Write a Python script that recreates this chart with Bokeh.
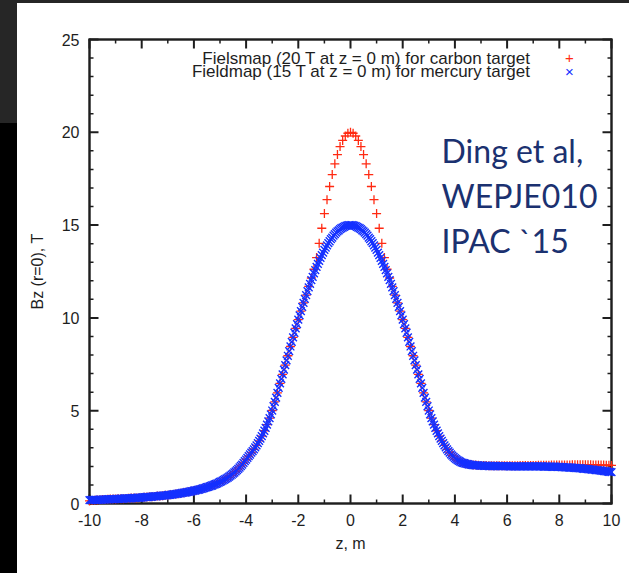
import numpy as np
from bokeh.plotting import figure
from bokeh.models import Range1d, FixedTicker, Label, Div, CustomJSTickFormatter
from bokeh.layouts import row, column
from bokeh.embed import file_html
from bokeh.resources import INLINE

# On-axis field Bz(r=0) of the target solenoid, sampled along z.
# Carbon-target field map (20 T at z = 0), 0.1 m step
z_carbon = np.round(np.linspace(-10.0, 10.0, 201), 2)
bz_carbon = [
    0.14, 0.16, 0.18, 0.19, 0.20, 0.21, 0.22, 0.23, 0.24, 0.24,   # -10 .. -9.1
    0.24, 0.25, 0.26, 0.26, 0.27, 0.28, 0.29, 0.30, 0.30, 0.31,   # -9
    0.32, 0.34, 0.35, 0.36, 0.37, 0.38, 0.40, 0.41, 0.42, 0.44,   # -8
    0.45, 0.47, 0.49, 0.51, 0.53, 0.55, 0.58, 0.60, 0.63, 0.66,   # -7
    0.69, 0.72, 0.75, 0.79, 0.83, 0.88, 0.92, 0.97, 1.03, 1.09,   # -6
    1.16, 1.23, 1.31, 1.40, 1.50, 1.61, 1.73, 1.87, 2.02, 2.19,   # -5
    2.37, 2.55, 2.74, 2.92, 3.13, 3.37, 3.63, 3.92, 4.25, 4.60,   # -4
    5.01, 5.48, 5.96, 6.47, 6.96, 7.46, 7.96, 8.46, 8.95, 9.44,   # -3
    9.91, 10.36, 10.81, 11.23, 11.70, 12.15, 12.62, 13.25, 14.02, 14.83,   # -2
    15.62, 16.37, 17.08, 17.72, 18.30, 18.80, 19.23, 19.56, 19.80, 19.95,  # -1
    20.00, 19.95, 19.80, 19.56, 19.23, 18.80, 18.30, 17.72, 17.08, 16.37,  # 0
    15.62, 14.83, 14.02, 13.25, 12.62, 12.15, 11.70, 11.23, 10.81, 10.36,  # 1
    9.91, 9.44, 8.95, 8.46, 7.96, 7.46, 6.96, 6.47, 5.96, 5.48,   # 2
    5.01, 4.60, 4.25, 3.92, 3.63, 3.37, 3.13, 2.92, 2.74, 2.58,   # 3
    2.45, 2.34, 2.26, 2.19, 2.15, 2.12, 2.10, 2.08, 2.07, 2.06,   # 4
    2.05, 2.05, 2.05, 2.04, 2.04, 2.04, 2.04, 2.04, 2.04, 2.04,   # 5
    2.04, 2.04, 2.04, 2.04, 2.04, 2.05, 2.05, 2.05, 2.05, 2.05,   # 6
    2.05, 2.05, 2.06, 2.06, 2.06, 2.06, 2.06, 2.07, 2.07, 2.07,   # 7
    2.07, 2.08, 2.08, 2.08, 2.08, 2.09, 2.09, 2.09, 2.09, 2.09,   # 8
    2.09, 2.09, 2.09, 2.08, 2.08, 2.08, 2.07, 2.07, 2.06, 2.06,   # 9
    2.05,                                                          # 10
]

# Mercury-target field map (15 T at z = 0), 0.05 m step
z_mercury = np.round(np.linspace(-10.0, 10.0, 401), 2)
bz_mercury = [
    0.18, 0.18, 0.19, 0.19, 0.19, 0.20, 0.20, 0.20, 0.21, 0.21,
    0.21, 0.21, 0.22, 0.22, 0.22, 0.23, 0.23, 0.23, 0.24, 0.24,   # -10
    0.24, 0.25, 0.25, 0.25, 0.26, 0.26, 0.26, 0.27, 0.27, 0.28,
    0.28, 0.28, 0.29, 0.29, 0.30, 0.30, 0.30, 0.31, 0.31, 0.32,   # -9
    0.32, 0.33, 0.34, 0.34, 0.35, 0.35, 0.36, 0.36, 0.37, 0.38,
    0.38, 0.39, 0.40, 0.40, 0.41, 0.42, 0.42, 0.43, 0.44, 0.44,   # -8
    0.45, 0.46, 0.47, 0.48, 0.49, 0.50, 0.51, 0.52, 0.53, 0.54,
    0.55, 0.57, 0.58, 0.59, 0.60, 0.62, 0.63, 0.64, 0.66, 0.67,   # -7
    0.69, 0.70, 0.72, 0.74, 0.75, 0.77, 0.79, 0.81, 0.83, 0.85,
    0.88, 0.90, 0.92, 0.95, 0.97, 1.00, 1.03, 1.06, 1.09, 1.12,   # -6
    1.16, 1.19, 1.23, 1.27, 1.31, 1.35, 1.40, 1.45, 1.50, 1.55,
    1.61, 1.67, 1.73, 1.80, 1.87, 1.94, 2.02, 2.10, 2.19, 2.28,   # -5
    2.37, 2.46, 2.55, 2.64, 2.74, 2.82, 2.92, 3.02, 3.13, 3.25,
    3.37, 3.50, 3.63, 3.78, 3.92, 4.08, 4.25, 4.42, 4.60, 4.80,   # -4
    5.01, 5.24, 5.48, 5.71, 5.96, 6.23, 6.47, 6.71, 6.96, 7.21,
    7.46, 7.71, 7.96, 8.21, 8.46, 8.71, 8.95, 9.20, 9.44, 9.67,   # -3
    9.91, 10.14, 10.36, 10.59, 10.81, 11.02, 11.23, 11.44, 11.64, 11.83,
    12.03, 12.21, 12.40, 12.57, 12.75, 12.91, 13.07, 13.23, 13.38, 13.52,  # -2
    13.66, 13.79, 13.91, 14.03, 14.13, 14.24, 14.33, 14.43, 14.51, 14.59,
    14.66, 14.72, 14.78, 14.83, 14.87, 14.91, 14.94, 14.97, 14.99, 15.00,  # -1
    15.00, 15.00, 14.99, 14.97, 14.94, 14.91, 14.87, 14.83, 14.78, 14.72,
    14.66, 14.59, 14.51, 14.43, 14.33, 14.24, 14.13, 14.03, 13.91, 13.79,  # 0
    13.66, 13.52, 13.38, 13.23, 13.07, 12.91, 12.75, 12.57, 12.40, 12.21,
    12.03, 11.83, 11.64, 11.44, 11.23, 11.02, 10.81, 10.59, 10.36, 10.14,  # 1
    9.91, 9.67, 9.44, 9.20, 8.95, 8.71, 8.46, 8.21, 7.96, 7.71,
    7.46, 7.21, 6.96, 6.71, 6.47, 6.23, 5.96, 5.71, 5.48, 5.24,   # 2
    5.01, 4.80, 4.60, 4.42, 4.25, 4.08, 3.92, 3.78, 3.63, 3.50,
    3.37, 3.25, 3.13, 3.02, 2.92, 2.82, 2.74, 2.65, 2.58, 2.51,   # 3
    2.45, 2.39, 2.34, 2.30, 2.26, 2.22, 2.19, 2.17, 2.15, 2.13,
    2.12, 2.10, 2.09, 2.08, 2.07, 2.06, 2.06, 2.05, 2.05, 2.04,   # 4
    2.04, 2.04, 2.03, 2.03, 2.03, 2.03, 2.02, 2.02, 2.02, 2.02,
    2.02, 2.02, 2.01, 2.01, 2.01, 2.01, 2.01, 2.01, 2.01, 2.01,   # 5
    2.01, 2.00, 2.00, 2.00, 2.00, 2.00, 2.00, 2.00, 2.00, 2.00,
    2.00, 2.00, 2.00, 2.00, 2.00, 2.00, 2.00, 2.00, 2.00, 2.00,   # 6
    2.00, 2.00, 2.00, 2.00, 2.00, 2.00, 2.00, 2.00, 1.99, 1.99,
    1.99, 1.99, 1.99, 1.99, 1.98, 1.98, 1.98, 1.98, 1.97, 1.97,   # 7
    1.97, 1.97, 1.96, 1.96, 1.95, 1.95, 1.95, 1.94, 1.94, 1.93,
    1.93, 1.92, 1.92, 1.91, 1.90, 1.90, 1.89, 1.89, 1.88, 1.87,   # 8
    1.87, 1.86, 1.85, 1.84, 1.84, 1.83, 1.82, 1.81, 1.80, 1.80,
    1.79, 1.78, 1.77, 1.76, 1.75, 1.74, 1.73, 1.72, 1.71, 1.70,   # 9
    1.69,                                                          # 10
]

x_ticks = [-10, -8, -6, -4, -2, 0, 2, 4, 6, 8, 10]
x_minor = list(range(-10, 11))
y_ticks = [0, 5, 10, 15, 20, 25]
y_minor = list(range(0, 26))
x_lim = (-10, 10)
y_lim = (0, 25)

legend_labels = [
    "Fielsmap (20 T at z = 0 m) for carbon target",
    "Fieldmap (15 T at z = 0 m) for mercury target",
]
note_lines = ["Ding et al,", "WEPJE010", "IPAC `15"]

RED = "#FF2A12"
BLUE = "#1430FF"
INK = "#1e1e1e"
NAVY = "#1B3170"
FONT = "Liberation Sans"

# plotting box 522 x 464 px; the drawing area is padded a few pixels on
# every side so that the border box sits fully inside the clip region
BOX_W, BOX_H = 522, 464
PAD = 5
px_x = BOX_W / (x_lim[1] - x_lim[0])   # pixels per metre
px_y = BOX_H / (y_lim[1] - y_lim[0])   # pixels per tesla
pad_x, pad_y = PAD / px_x, PAD / px_y

p = figure(
    width=612, height=570,
    x_range=Range1d(x_lim[0] - pad_x, x_lim[1] + pad_x),
    y_range=Range1d(y_lim[0] - pad_y, y_lim[1] + pad_y),
    output_backend="svg", toolbar_location=None,
    min_border_left=72 - PAD, min_border_right=18 - PAD,
    min_border_top=36 - PAD, min_border_bottom=70 - PAD,
    background_fill_color="white", border_fill_color="white",
)
p.grid.visible = False
p.outline_line_color = None

maj_len, min_len = 9.0, 4.0
x_min_only = [t for t in x_minor if t not in x_ticks]
y_min_only = [t for t in y_minor if t not in y_ticks]

# border box traced with 2-pixel squares laid one pixel apart
hx = np.linspace(x_lim[0], x_lim[1], BOX_W + 1)
vy = np.linspace(y_lim[0], y_lim[1], BOX_H + 1)
edge_x = np.concatenate([hx, hx, np.full(vy.size, x_lim[0]), np.full(vy.size, x_lim[1])])
edge_y = np.concatenate([np.full(hx.size, y_lim[0]), np.full(hx.size, y_lim[1]), vy, vy])
p.scatter(edge_x, edge_y, marker="square", size=2,
          fill_color=INK, line_color=None)

# inward ticks on all four sides (gnuplot "mirror" style)
for ticks, ln, lw in ((x_ticks, maj_len, 2), (x_min_only, min_len, 1.5)):
    d = ln / px_y
    p.segment(x0=ticks, y0=[y_lim[0]] * len(ticks), x1=ticks,
              y1=[y_lim[0] + d] * len(ticks), line_color=INK, line_width=lw)
    p.segment(x0=ticks, y0=[y_lim[1]] * len(ticks), x1=ticks,
              y1=[y_lim[1] - d] * len(ticks), line_color=INK, line_width=lw)
for ticks, ln, lw in ((y_ticks, maj_len, 2), (y_min_only, min_len, 1.5)):
    d = ln / px_x
    p.segment(x0=[x_lim[0]] * len(ticks), y0=ticks,
              x1=[x_lim[0] + d] * len(ticks), y1=ticks, line_color=INK, line_width=lw)
    p.segment(x0=[x_lim[1]] * len(ticks), y0=ticks,
              x1=[x_lim[1] - d] * len(ticks), y1=ticks, line_color=INK, line_width=lw)

p.scatter(z_carbon, bz_carbon, marker="cross", size=9,
          line_color=RED, line_width=1.3)
p.scatter(z_mercury, bz_mercury, marker="x", size=11,
          line_color=BLUE, line_width=1.4)

fmt = CustomJSTickFormatter(code="return tick.toString();")
for ax, ticks in ((p.xaxis[0], x_ticks), (p.yaxis[0], y_ticks)):
    ax.ticker = FixedTicker(ticks=ticks, minor_ticks=[])
    ax.formatter = fmt
    ax.axis_line_color = None
    ax.major_tick_line_color = None
    ax.minor_tick_line_color = None
    ax.major_tick_in = 0
    ax.major_tick_out = 0
    ax.minor_tick_in = 0
    ax.minor_tick_out = 0
    ax.major_label_text_font = FONT
    ax.major_label_text_font_size = "16px"
    ax.major_label_text_color = INK
    ax.major_label_standoff = 10 - PAD
    ax.axis_label_text_font = FONT
    ax.axis_label_text_font_size = "16px"
    ax.axis_label_text_font_style = "normal"
    ax.axis_label_text_color = INK
p.xaxis[0].axis_label = "z, m"
p.xaxis[0].axis_label_standoff = 6
p.yaxis[0].axis_label = "Bz (r=0), T"
p.yaxis[0].axis_label_standoff = 13

# key in the upper right: text first, sample symbol after it
for txt, yy, sym, col in zip(legend_labels, [24.0, 23.28], ["+", "\u00d7"], [RED, BLUE]):
    p.add_layout(Label(x=6.9, y=yy, text=txt, text_align="right",
                       text_baseline="middle", text_font=FONT,
                       text_font_size="17px", text_color=INK))
    p.add_layout(Label(x=8.39, y=yy, text=sym, text_align="center",
                       text_baseline="middle", text_font=FONT,
                       text_font_size="15px", text_color=col))

# citation
for txt, yy in zip(note_lines, [19.02, 16.59, 14.17]):
    p.add_layout(Label(x=3.49, y=yy, text=txt, text_align="left",
                       text_baseline="alphabetic", text_font="Lato",
                       text_font_size="32px", text_color=NAVY))

# dark slide edges around the chart
left_strip = Div(text="", width=17, height=573, margin=0, styles={
    "background": "linear-gradient(to bottom, #262626 0px, #262626 123px, #000000 123px, #000000 100%)"})
top_strip = Div(text="", width=612, height=3, margin=0, styles={"background": "#262626"})

page = row(left_strip, column(top_strip, p, spacing=0), spacing=0)

with open("out.html", "w") as f:
    f.write(file_html(page, INLINE))
